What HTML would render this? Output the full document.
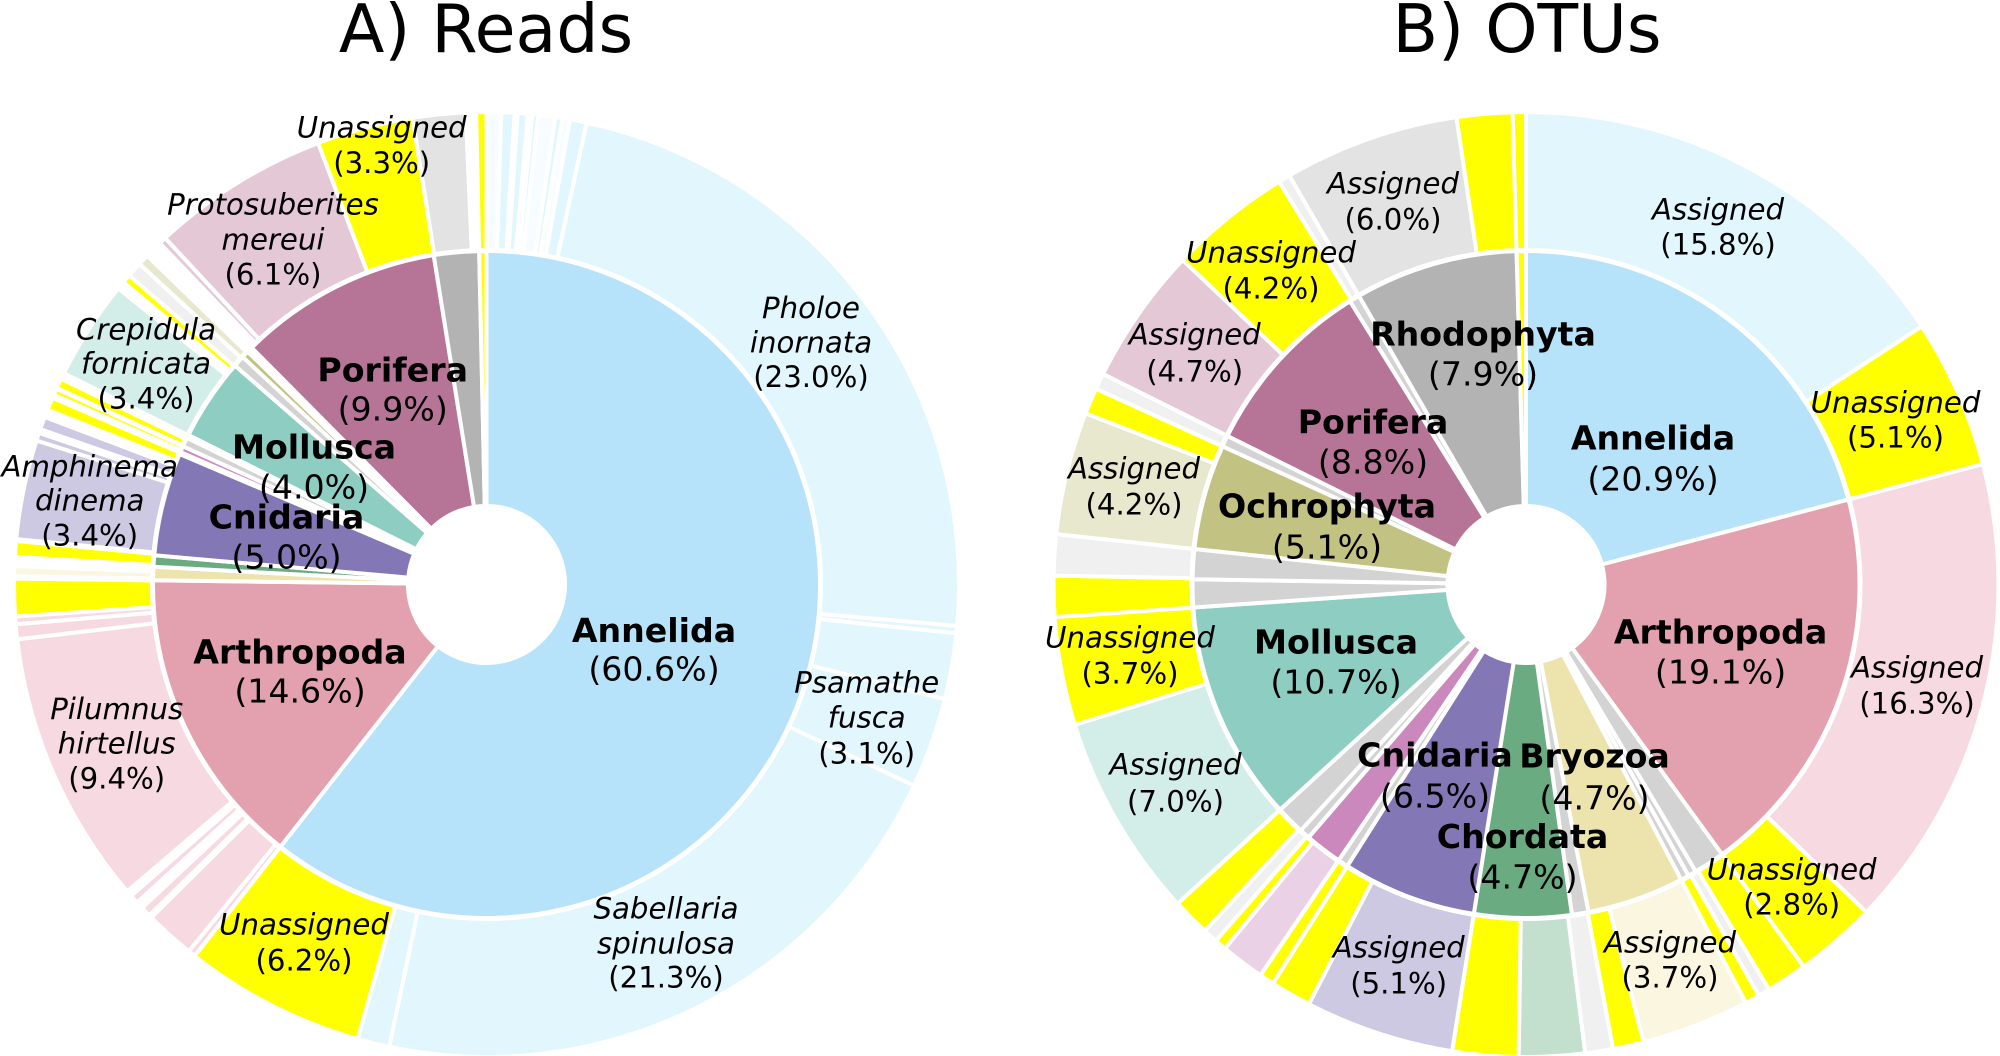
<!DOCTYPE html>
<html lang="en">
<head>
<meta charset="utf-8">
<title>Reads and OTUs taxonomic composition</title>
<style>
  html, body { margin: 0; padding: 0; background: #fff; }
  body { width: 2000px; height: 1056px; overflow: hidden; }
  svg { display: block; font-family: "DejaVu Sans", "Liberation Sans", sans-serif; }
  text { fill: #000; text-anchor: middle; }
  .title { font-size: 66.5px; }
  .inner-name { font-size: 33.2px; font-weight: bold; }
  .inner-pct { font-size: 33.2px; }
  .outer-name { font-size: 29.2px; font-style: oblique; }
  .outer-pct { font-size: 29.2px; }
</style>
</head>
<body>
<svg id="chart" xmlns="http://www.w3.org/2000/svg" width="2000" height="1056" viewBox="0 0 2000 1056">
  <rect width="2000" height="1056" fill="#ffffff"></rect>
  <g id="pie-reads"></g>
  <g id="pie-otus"></g>
  <text class="title" x="486" y="52">A) Reads</text>
  <text class="title" x="1527" y="52">B) OTUs</text>
</svg>
<script>
// ---------- Panel A: Reads (percent, clockwise from 12 o'clock) ----------
const readsInnerCategories = ["Annelida","Arthropoda","Bryozoa","Chordata","Cnidaria","Other","Other","Other","Other","Mollusca","Other","Ochrophyta","Other","Porifera","Rhodophyta","Unassigned"];
const readsInnerValues = [60.6,14.6,0.65,0.55,5.0,0.1,0.3,0.45,0.15,4.0,0.55,0.35,0.27,9.9,2.18,0.35];
const readsInnerKeys = ["annelida","arthropoda","bryozoa","chordata","cnidaria","gap","pink","gray","gap","mollusca","gray","ochrophyta","gap","porifera","rhodophyta","yellow"];

const readsOuterCategories = ["Other","Other","Other","Other","Other","Other","Other","Other","Other","Other","Pholoe inornata","Other","Other","Psamathe fusca","Sabellaria spinulosa","Other","Unassigned","Other","Other","Other","Other","Other","Other","Other","Pilumnus hirtellus","Other","Other","Other","Other","Other","Other","Other","Other","Amphinema dinema","Other","Other","Other","Other","Other","Other","Other","Other","Other","Other","Crepidula fornicata","Other","Other","Other","Other","Other","Other","Protosuberites mereui","Unassigned","Other","Other","Other"];
const readsOuterValues = [0.5,0.45,0.1,0.35,0.15,0.2,0.58,0.24,0.26,0.57,23.0,0.25,2.25,3.1,21.3,1.1,6.2,0.25,1.7,0.1,0.35,0.25,0.3,0.2,9.4,0.51,0.26,1.28,0.08,0.34,0.31,0.54,0.06,3.4,0.27,0.13,0.44,0.26,0.44,0.11,0.22,0.03,0.34,0.21,3.4,0.27,0.3,0.52,0.38,0.6,0.25,6.1,3.3,1.8,0.35,0.35];
const readsOuterKeys = ["faint","annelidaLight","faint","annelidaLight","faint","annelidaLight","faint","annelidaLight","faint","annelidaLight","annelidaLight","annelidaLight","annelidaLight","annelidaLight","annelidaLight","annelidaLight","yellow","arthropodaLight","arthropodaLight","gap","arthropodaLight","gap","arthropodaLight","gap","arthropodaLight","arthropodaLight","arthropodaLight","yellow","gap","bryozoaLight","gap","yellow","gap","cnidariaLight","cnidariaLight","gap","cnidariaLight","gap","yellow","gap","yellow","gap","yellow","gap","molluscaLight","gap","yellow","grayLight","ochrophytaLight","gap","poriferaLight","poriferaLight","yellow","rhodophytaLight","gap","yellow"];

// ---------- Panel B: OTUs (percent, clockwise from 12 o'clock) ----------
const otusInnerCategories = ["Annelida","Arthropoda","Other","Other","Other","Bryozoa","Other","Chordata","Cnidaria","Other","Other","Other","Other","Mollusca","Other","Other","Ochrophyta","Other","Porifera","Other","Rhodophyta","Unassigned"];
const otusInnerValues = [20.9,19.1,1.5,0.4,0.4,4.7,0.8,4.7,6.5,0.5,1.8,0.5,1.4,10.7,1.35,1.45,5.1,0.55,8.8,0.5,7.9,0.45];
const otusInnerKeys = ["annelida","arthropoda","gray","gray","gray","bryozoa","gray","chordata","cnidaria","gray","pink","gray","gray","mollusca","gray","gray","ochrophyta","gray","porifera","gray","rhodophyta","yellow"];

const otusOuterCategories = ["Assigned","Unassigned","Assigned","Unassigned","Other","Other","Other","Assigned","Other","Other","Other","Other","Assigned","Other","Other","Other","Other","Other","Other","Assigned","Unassigned","Other","Other","Assigned","Other","Other","Assigned","Unassigned","Other","Assigned","Other","Other"];
const otusOuterValues = [15.8,5.1,16.3,2.8,1.4,0.4,0.5,3.7,1.05,0.95,2.25,2.25,5.1,1.4,0.5,1.5,0.4,0.5,1.3,7.0,3.7,1.4,1.4,4.2,0.9,0.55,4.7,4.2,0.4,6.0,1.9,0.45];
const otusOuterKeys = ["annelidaLight","yellow","arthropodaLight","yellow","yellow","grayLight","yellow","bryozoaLight","yellow","grayLight","chordataLight","yellow","cnidariaLight","yellow","yellow","pinkLight","yellow","grayLight","yellow","molluscaLight","yellow","yellow","grayLight","ochrophytaLight","yellow","grayLight","poriferaLight","yellow","grayLight","rhodophytaLight","yellow","yellow"];

// ---------- Styling and layout (kept apart from the data) ----------
const palette = {
  annelida:"#b6e3f9", annelidaLight:"#e2f6fe", arthropoda:"#e3a0ae", arthropodaLight:"#f7dae1",
  bryozoa:"#ede3ac", bryozoaLight:"#faf6e0", chordata:"#6aab82", chordataLight:"#c3dfcd",
  cnidaria:"#8378b5", cnidariaLight:"#cdc9e3", mollusca:"#8ecdc2", molluscaLight:"#d3ede8",
  ochrophyta:"#c2c282", ochrophytaLight:"#e8e8ce", porifera:"#b67496", poriferaLight:"#e4c8d6",
  rhodophyta:"#b3b3b3", rhodophytaLight:"#e3e3e3", pink:"#cb88bd", pinkLight:"#ebd1e6",
  gray:"#d3d3d3", grayLight:"#f0f0f0", yellow:"#ffff00", gap:"#ffffff", faint:"#f6fcff"
};
const geometry = { cy:584.5, hole:78.5, innerEdge:333.5, outerStart:334.5, outerEdge:472.5, stroke:4 };
const readsCenterX = 486.5;
const otusCenterX = 1526;
const labelBaselineNudge = 0.6;

// label rows: slice index, centre x, baselines (name lines then percentage)
const readsInnerLabelLayout = [[0,654,641.6,680],[1,300,663,701.7],[4,286.5,528,567.7],[9,314,458,498],[13,392.7,380.7,420]];
const readsOuterLabelLayout = [[10,811,317.6,352,386.5],[13,866.7,691.7,727,762.7],[14,666,918,953,987],[16,304,934,970],[24,116.7,718.3,752.7,788],[33,89.7,475.7,510,545],[44,146,339,373,408],[51,273,214,249,284],[52,381.7,137,172.3]];
const otusInnerLabelLayout = [[0,1653,449,490],[1,1720.6,642.7,683],[5,1594.5,766.7,809],[7,1522.5,847.3,888],[8,1435,766,806.7],[13,1336,653,693],[16,1327,516.7,558],[18,1373,433,473],[20,1483,345,385]];
const otusOuterLabelLayout = [[0,1718,219,254],[1,1895.5,411.7,447],[2,1917,676.7,713],[3,1791.7,879,914],[7,1670,951.7,987],[12,1398.7,957,992.7],[19,1175.5,774,810.7],[20,1130,646.7,683],[23,1134,478,514],[26,1194.7,344,381],[27,1271,262,298],[29,1393,193,229]];

const SVG_NS = "http://www.w3.org/2000/svg";

function angleOf(percent) { return percent * 3.6 * Math.PI / 180; }

function wedgePath(cx, cy, r0, r1, startPct, endPct) {
  const a0 = angleOf(startPct), a1 = angleOf(endPct);
  const large = (a1 - a0) > Math.PI ? 1 : 0;
  const pt = function (r, a) { return (cx + r * Math.sin(a)).toFixed(2) + " " + (cy - r * Math.cos(a)).toFixed(2); };
  return "M" + pt(r1, a0) + " A" + r1 + " " + r1 + " 0 " + large + " 1 " + pt(r1, a1) +
         " L" + pt(r0, a1) + " A" + r0 + " " + r0 + " 0 " + large + " 0 " + pt(r0, a0) + " Z";
}

function slug(s) { return s.toLowerCase().replace(/[^a-z0-9]+/g, "-"); }

function drawRing(parent, cx, r0, r1, prefix, categories, values, keys) {
  let cum = 0;
  values.forEach(function (v, i) {
    const path = document.createElementNS(SVG_NS, "path");
    path.setAttribute("d", wedgePath(cx, geometry.cy, r0, r1, cum, cum + v));
    path.setAttribute("fill", palette[keys[i]]);
    path.setAttribute("stroke", "#ffffff");
    path.setAttribute("stroke-width", geometry.stroke);
    path.setAttribute("stroke-linejoin", "miter");
    
    
    parent.appendChild(path);
    cum += v;
  });
}

function addText(parent, cls, x, y, str, name) {
  const t = document.createElementNS(SVG_NS, "text");
  t.setAttribute("class", cls);
  t.setAttribute("x", x);
  t.setAttribute("y", y + labelBaselineNudge);
  
  
  t.textContent = str;
  parent.appendChild(t);
}

function drawLabels(parent, prefix, nameClass, pctClass, layout, categories, values) {
  layout.forEach(function (row) {
    const idx = row[0], x = row[1], baselines = row.slice(2);
    const lines = categories[idx].split(" ");
    lines.forEach(function (line, k) {
      addText(parent, nameClass, x, baselines[k], line, prefix + "-label-" + slug(categories[idx]) + "-" + idx + "-line-" + k);
    });
    addText(parent, pctClass, x, baselines[lines.length], "(" + values[idx].toFixed(1) + "%)", prefix + "-value-" + slug(categories[idx]) + "-" + idx);
  });
}

const readsGroup = document.getElementById("pie-reads");
const otusGroup = document.getElementById("pie-otus");

drawRing(readsGroup, readsCenterX, geometry.outerStart, geometry.outerEdge, "reads-outer", readsOuterCategories, readsOuterValues, readsOuterKeys);
drawRing(readsGroup, readsCenterX, geometry.hole, geometry.innerEdge, "reads-inner", readsInnerCategories, readsInnerValues, readsInnerKeys);
drawRing(otusGroup, otusCenterX, geometry.outerStart, geometry.outerEdge, "otus-outer", otusOuterCategories, otusOuterValues, otusOuterKeys);
drawRing(otusGroup, otusCenterX, geometry.hole, geometry.innerEdge, "otus-inner", otusInnerCategories, otusInnerValues, otusInnerKeys);

drawLabels(readsGroup, "reads-outer", "outer-name", "outer-pct", readsOuterLabelLayout, readsOuterCategories, readsOuterValues);
drawLabels(readsGroup, "reads-inner", "inner-name", "inner-pct", readsInnerLabelLayout, readsInnerCategories, readsInnerValues);
drawLabels(otusGroup, "otus-outer", "outer-name", "outer-pct", otusOuterLabelLayout, otusOuterCategories, otusOuterValues);
drawLabels(otusGroup, "otus-inner", "inner-name", "inner-pct", otusInnerLabelLayout, otusInnerCategories, otusInnerValues);
</script>
</body>
</html>
